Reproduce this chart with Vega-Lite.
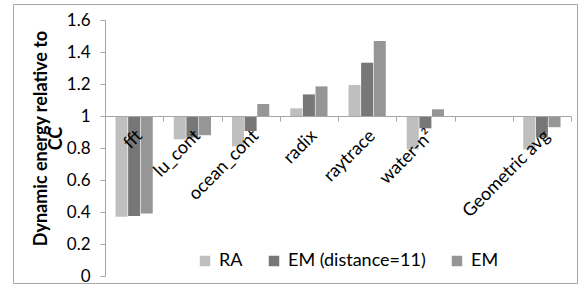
{
  "$schema": "https://vega.github.io/schema/vega-lite/v6.json",
  "width": 564,
  "height": 279,
  "autosize": {"type": "none"},
  "padding": {"left": 13, "top": 4, "right": 5, "bottom": 10},
  "background": "white",
  "config": {
    "font": "Lato",
    "view": {"stroke": "#a6a6a6", "strokeWidth": 1},
    "axisX": {"labelAngle": -45}
  },
  "data": {
    "values": [
      {"bench": "fft", "series": "RA", "value": 0.37},
      {"bench": "fft", "series": "EM (distance=11)", "value": 0.375},
      {"bench": "fft", "series": "EM", "value": 0.39},
      {"bench": "lu_cont", "series": "RA", "value": 0.854},
      {"bench": "lu_cont", "series": "EM (distance=11)", "value": 0.865},
      {"bench": "lu_cont", "series": "EM", "value": 0.88},
      {"bench": "ocean_cont", "series": "RA", "value": 0.81},
      {"bench": "ocean_cont", "series": "EM (distance=11)", "value": 0.906},
      {"bench": "ocean_cont", "series": "EM", "value": 1.075},
      {"bench": "radix", "series": "RA", "value": 1.048},
      {"bench": "radix", "series": "EM (distance=11)", "value": 1.135},
      {"bench": "radix", "series": "EM", "value": 1.185},
      {"bench": "raytrace", "series": "RA", "value": 1.194},
      {"bench": "raytrace", "series": "EM (distance=11)", "value": 1.333},
      {"bench": "raytrace", "series": "EM", "value": 1.469},
      {"bench": "water-n²", "series": "RA", "value": 0.792},
      {"bench": "water-n²", "series": "EM (distance=11)", "value": 0.923},
      {"bench": "water-n²", "series": "EM", "value": 1.042},
      {"bench": "Geometric avg", "series": "RA", "value": 0.792},
      {"bench": "Geometric avg", "series": "EM (distance=11)", "value": 0.865},
      {"bench": "Geometric avg", "series": "EM", "value": 0.93}
    ]
  },
  "mark": {"type": "bar", "stroke": null},
  "encoding": {
    "x": {
      "field": "bench",
      "type": "nominal",
      "scale": {
        "domain": ["fft", "lu_cont", "ocean_cont", "radix", "raytrace", "water-n²", " ", "Geometric avg"],
        "range": [92, 558],
        "paddingInner": 0,
        "paddingOuter": 0
      },
      "axis": {
        "title": null,
        "offset": -167,
        "zindex": 1,
        "domainColor": "#a6a6a6",
        "tickColor": "#a6a6a6",
        "tickSize": 5,
        "tickBand": "extent",
        "labelAngle": -45,
        "labelAlign": "right",
        "labelBaseline": "middle",
        "labelPadding": 12,
        "labelOffset": 5,
        "labelFontSize": 18,
        "labelColor": "#000000",
        "labelOverlap": false,
        "labelLimit": 300
      }
    },
    "xOffset": {
      "field": "series",
      "type": "nominal",
      "sort": ["RA", "EM (distance=11)", "EM"],
      "scale": {"paddingInner": 0.05, "paddingOuter": 0.83}
    },
    "y": {
      "field": "value",
      "type": "quantitative",
      "scale": {"domain": [0, 1.6], "range": [272, 16], "nice": false, "zero": false},
      "axis": {
        "title": ["Dynamic energy relative to", "CC"],
        "titleFontSize": 18,
        "titleFontWeight": "bold",
        "titleColor": "#000000",
        "titleLineHeight": 15,
        "titlePadding": 1,
        "titleY": 134,
        "offset": -92,
        "values": [0, 0.2, 0.4, 0.6, 0.8, 1, 1.2, 1.4, 1.6],
        "format": "~g",
        "grid": false,
        "labelOverlap": false,
        "domainColor": "#a6a6a6",
        "tickColor": "#a6a6a6",
        "tickSize": 5,
        "labelPadding": 10,
        "labelFontSize": 17,
        "labelColor": "#000000"
      }
    },
    "y2": {"datum": 1},
    "color": {
      "field": "series",
      "type": "nominal",
      "scale": {
        "domain": ["RA", "EM (distance=11)", "EM"],
        "range": ["#bfbfbf", "#777777", "#969696"]
      },
      "legend": {
        "title": null,
        "orient": "none",
        "direction": "horizontal",
        "legendX": 183,
        "legendY": 248,
        "padding": 0,
        "symbolType": "square",
        "symbolSize": 110,
        "symbolStrokeWidth": 0,
        "symbolOpacity": 1,
        "labelFontSize": 18,
        "labelColor": "#000000",
        "labelOffset": 5,
        "columnPadding": 22
      }
    }
  }
}
